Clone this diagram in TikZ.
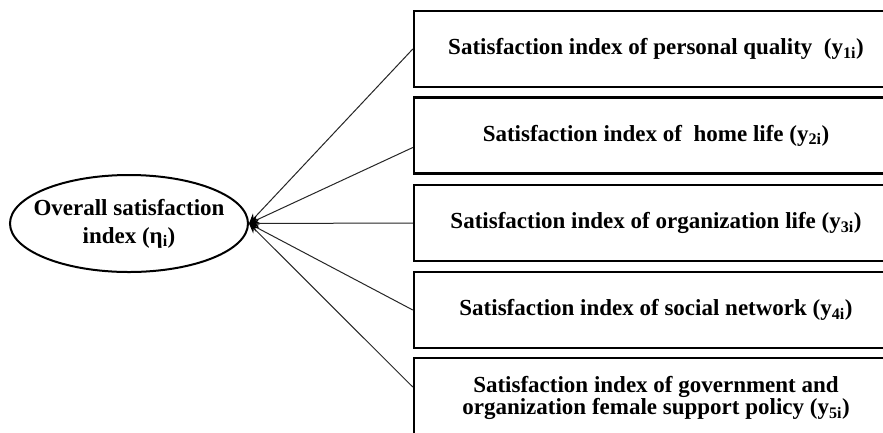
\documentclass[tikz,border=0pt]{standalone}
\usepackage{fontspec}
\setmainfont{Liberation Serif}
\usetikzlibrary{shapes.geometric,arrows.meta}
\tikzset{
  box/.style={draw=black, line width=2.4pt, rectangle, minimum width=484pt, minimum height=76pt, inner sep=0pt, align=center, font=\bfseries\fontsize{23}{22}\selectfont},
  ell/.style={draw=black, line width=2pt, ellipse, minimum width=238pt, minimum height=97pt, inner sep=0pt},
  elltext/.style={align=center, inner sep=0pt, font=\bfseries\fontsize{23}{28}\selectfont},
  conn/.style={draw=black!85, line width=1pt, -{Stealth[length=10pt,width=8pt,color=black]}}
}
\begin{document}
\begin{tikzpicture}[x=1pt,y=-1pt]
\clip (0,0) rectangle (883,432);
\fill[white] (0,0) rectangle (883,432);
\node[ell, label={[elltext]center:{Overall satisfaction\\index (η\textsubscript{i})}}] (el) at (129,223.5) {};
\node[box] (b1) at (656,49) {Satisfaction index of personal quality~~(y\textsubscript{1i})};
\node[box] (b2) at (656,135.5) {Satisfaction index of~~home life (y\textsubscript{2i})};
\node[box] (b3) at (656,223) {Satisfaction index of organization life (y\textsubscript{3i})};
\node[box] (b4) at (656,310) {Satisfaction index of social network (y\textsubscript{4i})};
\node[box, minimum height=80pt] (b5) at (656,398) {Satisfaction index of government and\\organization female support policy (y\textsubscript{5i})};
\draw[conn] (b1.west) -- (el.east);
\draw[conn] ([yshift=-12pt]b2.west) -- (el.east);
\draw[conn] (b3.west) -- (el.east);
\draw[conn] (b4.west) -- (el.east);
\draw[conn] ([yshift=11pt]b5.west) -- (el.east);
\end{tikzpicture}
\end{document}
